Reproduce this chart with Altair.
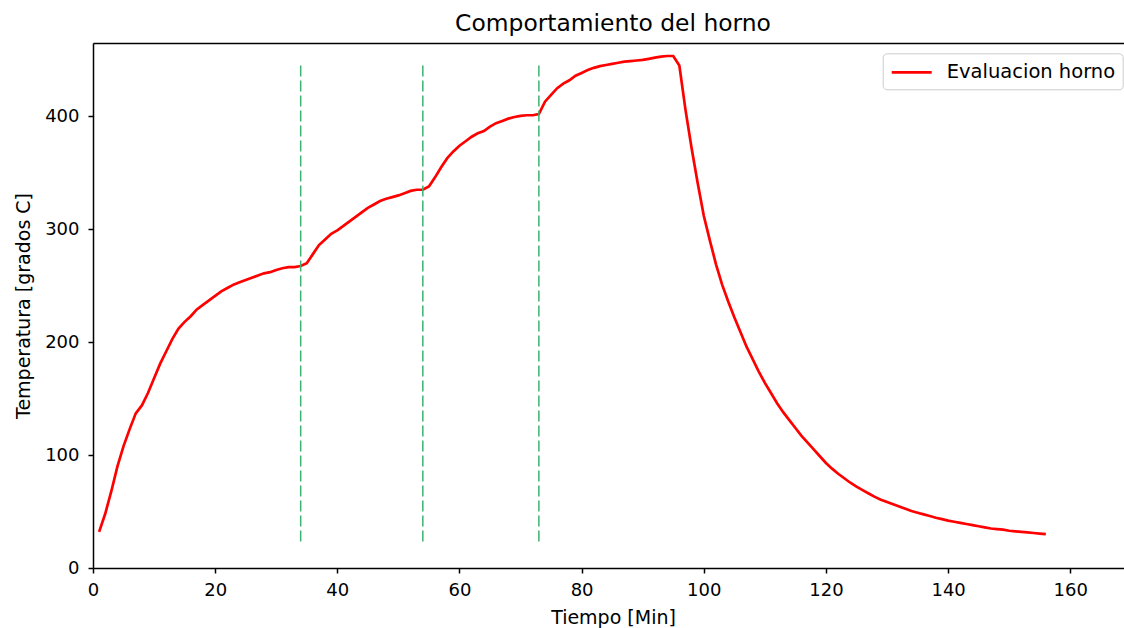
import altair as alt
import pandas as pd

# ---- data ----
tiempo = list(range(1, 157))
temperatura = [
    32, 48, 68, 90, 108, 123, 137, 144, 155, 168,
    181, 192, 203, 212, 218, 223, 229, 233, 237, 241,
    245, 248, 251, 253, 255, 257, 259, 261, 262, 264,
    265.5, 266.5, 266.5, 267.5, 270, 278, 286, 291, 296, 299,
    303, 307, 311, 315, 319, 322, 325, 327, 328.5, 330,
    332, 334, 335, 335, 338, 346, 355, 363, 369, 374,
    378, 382, 385, 387, 391, 394, 396, 398, 399.5, 400.5,
    401, 401, 402, 413, 419, 425, 429, 432, 436, 438.5,
    441, 443, 444.5, 445.5, 446.5, 447.5, 448.5, 449, 449.5, 450,
    451, 452, 453, 453.5, 453.5, 445, 406, 372, 341, 312,
    290, 269, 251, 236, 222, 209, 196, 185, 174, 164,
    155, 146, 138, 131, 124, 117, 111, 105, 99, 93,
    88, 83.5, 79.5, 75.5, 72, 69, 66, 63, 60.5, 58.5,
    56.5, 54.5, 52.5, 50.5, 49, 47.5, 46, 44.5, 43.3, 42,
    41, 40, 39, 38, 37, 36, 35, 34.5, 34, 33,
    32.5, 32, 31.5, 31, 30.5, 30,
]
serie = ["Evaluacion horno"] * len(tiempo)

cortes_x = [34, 54, 73]
cortes_ymin = [20, 20, 20]
cortes_ymax = [445, 445, 445]

df = pd.DataFrame({"tiempo": tiempo, "temperatura": temperatura, "serie": serie})
df_cortes = pd.DataFrame({"x": cortes_x, "ymin": cortes_ymin, "ymax": cortes_ymax})

FONT = "DejaVu Sans"
xscale = alt.Scale(domain=[0, 168.8], nice=False, zero=False)
yscale = alt.Scale(domain=[0, 465], nice=False)

yaxis = alt.Axis(
    title="Temperatura [grados C]", values=[0, 100, 200, 300, 400], grid=False,
    labelFontSize=18, labelFont=FONT, labelColor="black", labelPadding=9, labelFlush=False,
    tickSize=5, tickWidth=1.5, tickColor="black", domainColor="black", domainWidth=1.5,
    titleFontSize=19, titleFont=FONT, titleColor="black", titleFontWeight="normal",
    titleAngle=-90, titleBaseline="alphabetic", titleAlign="center",
    titleX=-64, titleY=262.5,
)

linea = alt.Chart(df).mark_line(strokeWidth=2.7).encode(
    x=alt.X("tiempo:Q", scale=xscale, axis=alt.Axis(
        title="Tiempo [Min]", values=[0, 20, 40, 60, 80, 100, 120, 140, 160], grid=False,
        labelFontSize=18, labelFont=FONT, labelColor="black", labelPadding=8, labelFlush=False,
        tickSize=5, tickWidth=1.5, tickColor="black", domainColor="black", domainWidth=1.5,
        titleFontSize=19, titleFont=FONT, titleColor="black", titleFontWeight="normal",
        titleBaseline="alphabetic", titleY=55.5, titleX=520, titleAlign="center",
    )),
    y=alt.Y("temperatura:Q", scale=yscale, axis=yaxis),
    color=alt.Color("serie:N", scale=alt.Scale(range=["#ff0000"]), legend=alt.Legend(
        orient="none", legendX=789.7, legendY=10.3, title=None, padding=7.5,
        strokeColor="#cccccc", cornerRadius=4, fillColor="white",
        symbolType="M-1,0H3", symbolSize=400, symbolStrokeWidth=2.7,
        labelFontSize=19.5, labelFont=FONT, labelColor="black", labelOffset=33.5, labelLimit=400,
    )),
)

cortes = alt.Chart(df_cortes).mark_rule(
    color="#3cb371", strokeWidth=1.5, strokeDash=[11, 4]
).encode(
    x=alt.X("x:Q", scale=xscale, axis=alt.Axis(
        orient="top", labels=False, ticks=False, title=None, grid=False,
        domainColor="black", domainWidth=1.5,
    )),
    y=alt.Y("ymax:Q", scale=yscale, axis=yaxis),
    y2="ymin:Q",
)

chart = alt.layer(linea, cortes).resolve_axis(x="independent").properties(
    width=1031,
    height=525,
    autosize=alt.AutoSizeParams(type="none"),
    padding={"left": 93, "top": 43, "right": 0, "bottom": 60},
    title=alt.Title(
        "Comportamiento del horno", fontSize=23.4, font=FONT, fontWeight="normal",
        color="black", anchor="middle", baseline="alphabetic", offset=7, dy=18.5, dx=4.5,
    ),
).configure_view(stroke=None).configure(background="white")

chart.save("out.html", embed_options={"renderer": "svg", "actions": False})
